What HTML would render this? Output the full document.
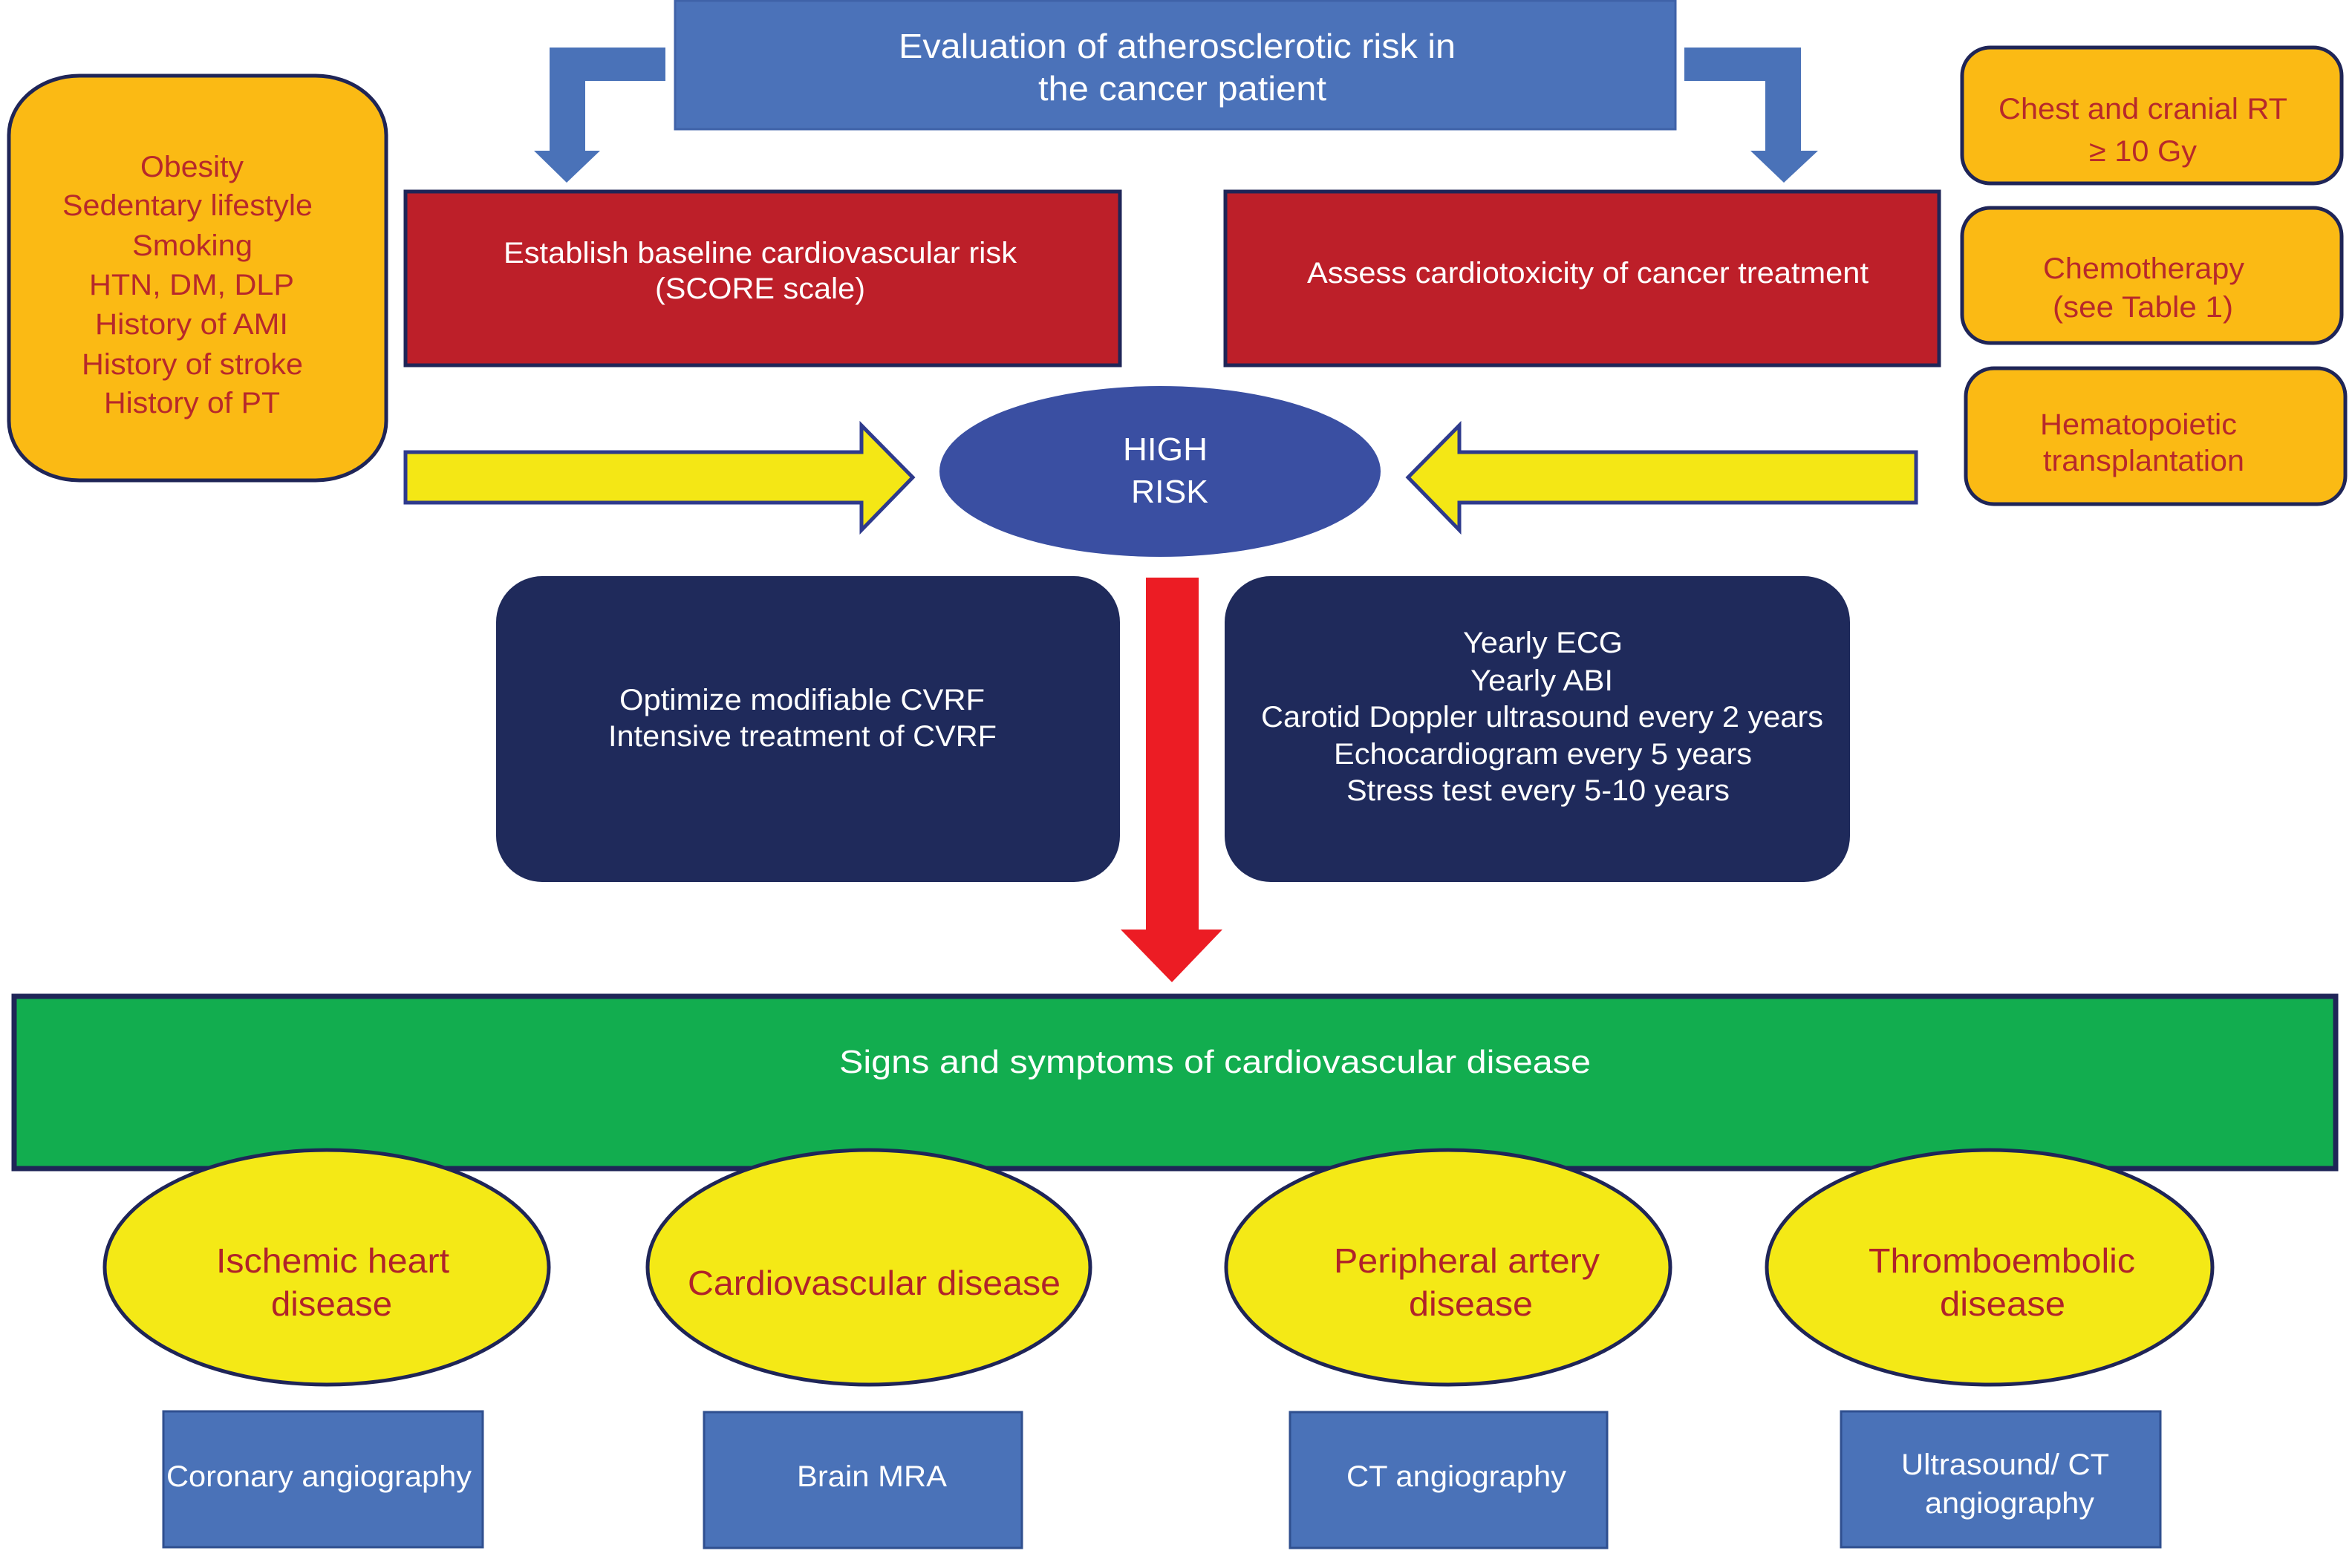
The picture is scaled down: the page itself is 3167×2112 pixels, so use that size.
<!DOCTYPE html>
<html><head><meta charset="utf-8"><style>html,body{margin:0;padding:0;background:#fff}svg{display:block}</style></head>
<body>
<svg xmlns="http://www.w3.org/2000/svg" width="3167" height="2112" viewBox="0 0 3167 2112" font-family="'Liberation Sans', sans-serif">
<rect width="3167" height="2112" fill="#fff"/>
<!-- top box -->
<rect x="909" y="1" width="1347" height="173" fill="#4b72b9" stroke="#3f62a8" stroke-width="3"/>
<g fill="#fff" font-size="46">
<text x="1210" y="78" textLength="750" lengthAdjust="spacingAndGlyphs">Evaluation of atherosclerotic risk in</text>
<text x="1398" y="135" textLength="388" lengthAdjust="spacingAndGlyphs">the cancer patient</text>
</g>
<!-- elbow arrows -->
<path d="M896,64 L740,64 L740,203 L719,203 L763,246 L808,203 L788,203 L788,109 L896,109 Z" fill="#4a72b8"/>
<path d="M2268,64 L2425,64 L2425,203 L2448,203 L2402,246 L2357,203 L2377,203 L2377,109 L2268,109 Z" fill="#4a72b8"/>
<!-- red boxes -->
<rect x="546" y="258" width="962" height="234" fill="#bd1f29" stroke="#1f2557" stroke-width="5"/>
<rect x="1650" y="258" width="961" height="234" fill="#bd1f29" stroke="#1f2557" stroke-width="5"/>
<g fill="#fff" font-size="40">
<text x="678" y="354" textLength="691" lengthAdjust="spacingAndGlyphs">Establish baseline cardiovascular risk</text>
<text x="882" y="402" textLength="283" lengthAdjust="spacingAndGlyphs">(SCORE scale)</text>
<text x="1760" y="381" textLength="756" lengthAdjust="spacingAndGlyphs">Assess cardiotoxicity of cancer treatment</text>
</g>
<!-- orange boxes -->
<rect x="12" y="102" width="508" height="545" rx="95" ry="80" fill="#fbba14" stroke="#1f2557" stroke-width="5"/>
<rect x="2642" y="64" width="511" height="183" rx="38" fill="#fbba14" stroke="#1f2557" stroke-width="5"/>
<rect x="2642" y="280" width="511" height="182" rx="38" fill="#fbba14" stroke="#1f2557" stroke-width="5"/>
<rect x="2647" y="496" width="511" height="183" rx="38" fill="#fbba14" stroke="#1f2557" stroke-width="5"/>
<g fill="#b7292b" font-size="40">
<text x="189" y="238" textLength="139" lengthAdjust="spacingAndGlyphs">Obesity</text>
<text x="84" y="290" textLength="337" lengthAdjust="spacingAndGlyphs">Sedentary lifestyle</text>
<text x="178" y="344" textLength="162" lengthAdjust="spacingAndGlyphs">Smoking</text>
<text x="120" y="397" textLength="276" lengthAdjust="spacingAndGlyphs">HTN, DM, DLP</text>
<text x="128" y="450" textLength="260" lengthAdjust="spacingAndGlyphs">History of AMI</text>
<text x="110" y="504" textLength="298" lengthAdjust="spacingAndGlyphs">History of stroke</text>
<text x="140" y="556" textLength="237" lengthAdjust="spacingAndGlyphs">History of PT</text>
<text x="2691" y="160" textLength="389" lengthAdjust="spacingAndGlyphs">Chest and cranial RT</text>
<text x="2813" y="217" textLength="145" lengthAdjust="spacingAndGlyphs">≥ 10 Gy</text>
<text x="2751" y="375" textLength="271" lengthAdjust="spacingAndGlyphs">Chemotherapy</text>
<text x="2764" y="427" textLength="243" lengthAdjust="spacingAndGlyphs">(see Table 1)</text>
<text x="2747" y="585" textLength="265" lengthAdjust="spacingAndGlyphs">Hematopoietic</text>
<text x="2751" y="634" textLength="271" lengthAdjust="spacingAndGlyphs">transplantation</text>
</g>
<!-- yellow arrows -->
<path d="M546,609 L1160,609 L1160,573 L1229,643 L1160,714 L1160,677 L546,677 Z" fill="#f4e715" stroke="#2e3a8c" stroke-width="5"/>
<path d="M2580,609 L1965,609 L1965,573 L1896,643 L1965,714 L1965,677 L2580,677 Z" fill="#f4e715" stroke="#2e3a8c" stroke-width="5"/>
<!-- high risk -->
<ellipse cx="1562" cy="635" rx="297" ry="115" fill="#3a4fa2"/>
<g fill="#fff" font-size="44">
<text x="1512" y="620" textLength="114" lengthAdjust="spacingAndGlyphs">HIGH</text>
<text x="1523" y="677" textLength="104" lengthAdjust="spacingAndGlyphs">RISK</text>
</g>
<!-- red down arrow -->
<path d="M1543,778 L1614,778 L1614,1252 L1646,1252 L1578,1323 L1509,1252 L1543,1252 Z" fill="#ec1c24"/>
<!-- navy boxes -->
<rect x="668" y="776" width="840" height="412" rx="62" fill="#1f2a5b"/>
<rect x="1649" y="776" width="842" height="412" rx="62" fill="#1f2a5b"/>
<g fill="#fff" font-size="40">
<text x="834" y="956" textLength="492" lengthAdjust="spacingAndGlyphs">Optimize modifiable CVRF</text>
<text x="819" y="1005" textLength="523" lengthAdjust="spacingAndGlyphs">Intensive treatment of CVRF</text>
<text x="1970" y="879" textLength="215" lengthAdjust="spacingAndGlyphs">Yearly ECG</text>
<text x="1980" y="930" textLength="192" lengthAdjust="spacingAndGlyphs">Yearly ABI</text>
<text x="1698" y="979" textLength="757" lengthAdjust="spacingAndGlyphs">Carotid Doppler ultrasound every 2 years</text>
<text x="1796" y="1029" textLength="563" lengthAdjust="spacingAndGlyphs">Echocardiogram every 5 years</text>
<text x="1813" y="1078" textLength="516" lengthAdjust="spacingAndGlyphs">Stress test every 5-10 years</text>
</g>
<!-- green bar -->
<rect x="19" y="1342" width="3126" height="232" fill="#12ad4f" stroke="#1f2557" stroke-width="7"/>
<text x="1130" y="1445" fill="#fff" font-size="44" textLength="1012" lengthAdjust="spacingAndGlyphs">Signs and symptoms of cardiovascular disease</text>
<!-- yellow ellipses -->
<g fill="#f4e916" stroke="#1f2557" stroke-width="5">
<ellipse cx="440" cy="1707" rx="299" ry="158"/>
<ellipse cx="1170" cy="1707" rx="298" ry="158"/>
<ellipse cx="1950" cy="1707" rx="299" ry="158"/>
<ellipse cx="2679" cy="1707" rx="300" ry="158"/>
</g>
<g fill="#b0232a" font-size="46">
<text x="291" y="1714" textLength="314" lengthAdjust="spacingAndGlyphs">Ischemic heart</text>
<text x="365" y="1772" textLength="163" lengthAdjust="spacingAndGlyphs">disease</text>
<text x="926" y="1744" textLength="502" lengthAdjust="spacingAndGlyphs">Cardiovascular disease</text>
<text x="1796" y="1714" textLength="358" lengthAdjust="spacingAndGlyphs">Peripheral artery</text>
<text x="1897" y="1772" textLength="167" lengthAdjust="spacingAndGlyphs">disease</text>
<text x="2516" y="1714" textLength="359" lengthAdjust="spacingAndGlyphs">Thromboembolic</text>
<text x="2612" y="1772" textLength="169" lengthAdjust="spacingAndGlyphs">disease</text>
</g>
<!-- bottom boxes -->
<g fill="#4a72b8" stroke="#2f4f8f" stroke-width="3">
<rect x="220" y="1901" width="430" height="183"/>
<rect x="948" y="1902" width="428" height="183"/>
<rect x="1737" y="1902" width="427" height="183"/>
<rect x="2479" y="1901" width="430" height="183"/>
</g>
<g fill="#fff" font-size="40">
<text x="224" y="2002" textLength="411" lengthAdjust="spacingAndGlyphs">Coronary angiography</text>
<text x="1073" y="2002" textLength="202" lengthAdjust="spacingAndGlyphs">Brain MRA</text>
<text x="1813" y="2002" textLength="296" lengthAdjust="spacingAndGlyphs">CT angiography</text>
<text x="2560" y="1986" textLength="280" lengthAdjust="spacingAndGlyphs">Ultrasound/ CT</text>
<text x="2592" y="2038" textLength="228" lengthAdjust="spacingAndGlyphs">angiography</text>
</g>
</svg>
</body></html>
